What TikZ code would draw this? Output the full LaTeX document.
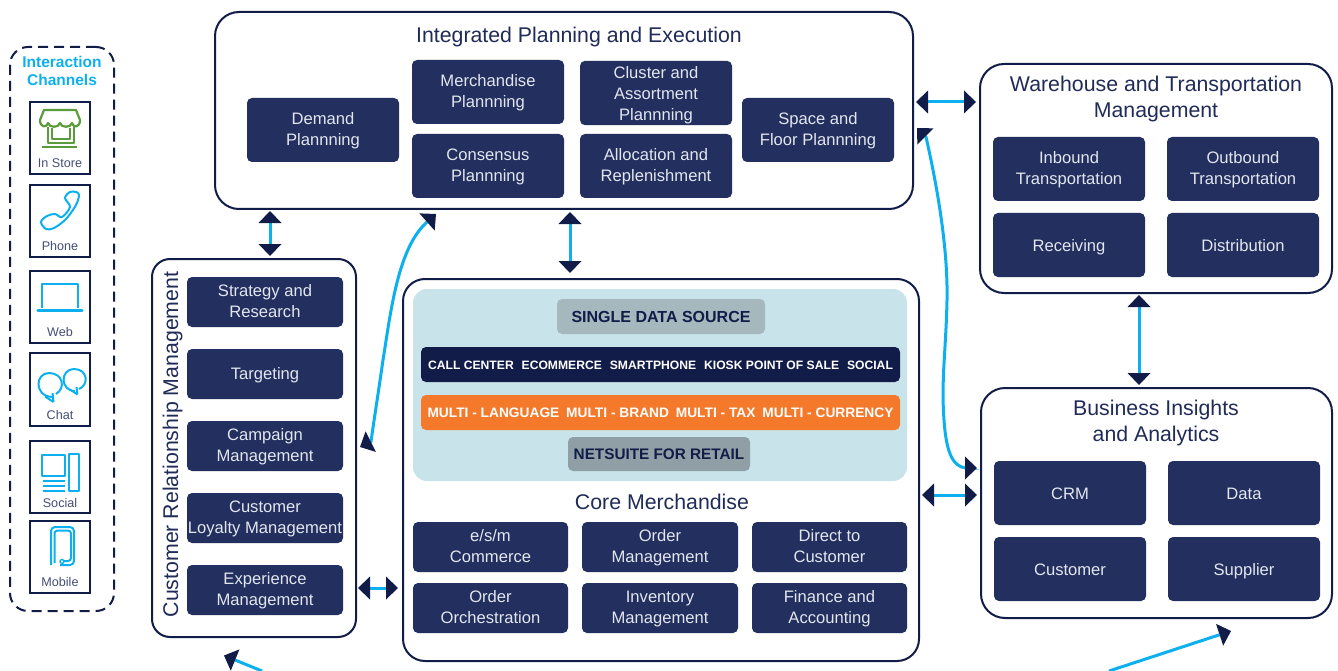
\documentclass[tikz,border=0pt]{standalone}
\usepackage{fontspec}
\setmainfont{Liberation Sans}
\usetikzlibrary{arrows.meta}
\definecolor{navy}{HTML}{121C48}
\definecolor{boxblue}{HTML}{222F5F}
\definecolor{cyanline}{HTML}{0DB0EE}
\definecolor{storegreen}{HTML}{5A9C3C}
\definecolor{panel}{HTML}{C9E3EA}
\definecolor{graya}{HTML}{A5B8BD}
\definecolor{grayb}{HTML}{909FA6}
\definecolor{orangebar}{HTML}{F5792A}
\definecolor{titlec}{HTML}{202B58}
\definecolor{boxtext}{HTML}{E2E6EE}
\definecolor{iconlabel}{HTML}{454E74}
\newcommand{\lowstrut}{\rule[-\dimexpr.3\baselineskip-2pt\relax]{0pt}{\baselineskip}}
\tikzset{
  base/.style={inner sep=0pt,outer sep=0pt,align=center},
  struts/.style={execute at begin node=\lowstrut,execute at end node=\lowstrut},
  raisetop/.style={execute at begin node=\rule{0pt}{#1}},
  group/.style={base,draw=navy,line width=2pt,fill=white,rounded corners=#1},
  group/.default=24pt,
  titletext/.style={base,struts,text=titlec,font=\fontsize{21.3}{26}\selectfont},
  bx/.style 2 args={base,struts,fill=boxblue,rounded corners=5pt,minimum width=#1,minimum height=#2,text=boxtext,font=\fontsize{16.6}{21}\selectfont},
  bxtwo/.style 2 args={bx={#1}{#2},raisetop=36pt},
  bar/.style 2 args={base,struts,rounded corners=5pt,minimum width=#1,minimum height=#2},
  chan/.style={base,draw=navy,line width=2pt,minimum width=60pt,minimum height=72pt},
  chanlabel/.style={base,struts,text=iconlabel,font=\fontsize{12.6}{15}\selectfont},
  icon/.style={draw=cyanline,line width=2pt,line join=round},
  conn/.style={draw=cyanline,line width=3pt,{Triangle[length=12pt,width=23pt,color=navy,fill=navy,line width=0pt]}-{Triangle[length=12pt,width=23pt,color=navy,fill=navy,line width=0pt]}},
  oneconn/.style={draw=cyanline,line width=3pt,-{Triangle[length=12pt,width=23pt,color=navy,fill=navy,line width=0pt]}}
}
\begin{document}
\begin{tikzpicture}[x=1pt,y=-1pt]
\useasboundingbox (0,0) rectangle (1338,671);
\clip (0,0) rectangle (1338,671);
% Interaction channels
\node[base,draw=navy,line width=2pt,dash pattern=on 10pt off 6pt,rounded corners=18pt,minimum width=104pt,minimum height=564pt] (chanbox) at (62,329) {};
\node[base,struts,raisetop=29.5pt,text=cyanline,font=\fontsize{15.5}{18}\selectfont\bfseries] (chantitle) at (62,72) {Interaction\\Channels};
\node[chan] (store) at (60,138) {};
\node[chan] (phone) at (60,221) {};
\node[chan] (web) at (60,307) {};
\node[chan,minimum height=73pt] (chat) at (60,389.5) {};
\node[chan] (social) at (60,477) {};
\node[chan] (mobile) at (60,557) {};
\node[chanlabel] at (60,162.5) {In Store};
\node[chanlabel] at (60,245.5) {Phone};
\node[chanlabel] at (60,331.5) {Web};
\node[chanlabel] at (60,414) {Chat};
\node[chanlabel] at (60,502.5) {Social};
\node[chanlabel] at (60,581.5) {Mobile};
% store icon
\begin{scope}[line width=2.2pt,line join=round]
\draw[storegreen] (44,110) -- (76,110) -- (80,120) .. controls (80,128) and (73,128) .. (72,123) .. controls (71,128) and (61,128) .. (60,123) .. controls (59,128) and (49,128) .. (48,123) .. controls (47,128) and (40,128) .. (40,120) -- cycle;
\draw[storegreen] (48,127) -- (48,143) -- (74,143) -- (74,127);
\draw[storegreen,line width=1.6pt] (52,128) -- (52,139) -- (70,139) -- (70,128);
\draw[storegreen] (42,147) -- (77,147);
\end{scope}
% phone icon
\draw[icon] plot[smooth cycle,tension=.55] coordinates {(41,222) (46,229) (54,228) (66,219) (76,205) (79,195) (76,192) (70,192) (65,198) (70,207) (62,217) (55,214) (47,216)};
% web icon
\draw[icon] (42,308) -- (42,283.5) -- (78,283.5) -- (78,308);
\draw[cyanline,line width=3.2pt,line cap=round] (38,310.5) -- (82,310.5);
% chat icon
\draw[icon] (52,397) .. controls (34,396) and (35,373) .. (49,373) .. controls (63,373) and (66,388) .. (56,394);
\draw[icon] (53.5,402) -- (45,396.5) (53.5,402) -- (52.5,393);
\draw[icon] (75,391) .. controls (60,391) and (60,369) .. (74,369) .. controls (88,369) and (89,385) .. (79,389);
\draw[icon] (77.5,394.5) -- (70,389.5) (77.5,394.5) -- (76.5,387);
% social icon
\draw[icon] (42,455) rectangle (65,476);
\draw[icon] (68.5,454) rectangle (79,491);
\draw[icon] (43,481) -- (65,481) (43,486) -- (65,486) (43,491) -- (65,491);
% mobile icon
\draw[icon,rounded corners=4pt] (51,565) -- (51,527) -- (74,527) -- (74,565) -- (60,565);
\draw[icon,rounded corners=3pt] (54.5,563) -- (54.5,530.5) -- (71,530.5) -- (71,561) -- (63,561);
\draw[icon,line width=1.4pt] (62,561.5) circle (2pt);
% Integrated Planning and Execution
\node[group,minimum width=698pt,minimum height=197pt] (ipe) at (564,110.5) {};
\node[titletext] at (579,35) {Integrated Planning and Execution};
\node[bxtwo={152pt}{64pt}] (demand) at (323,130) {Demand\\Plannning};
\node[bxtwo={152pt}{64pt}] (merch) at (488,92) {Merchandise\\Plannning};
\node[bxtwo={152pt}{64pt}] (consensus) at (488,166) {Consensus\\Plannning};
\node[bx={152pt}{64pt},raisetop=60pt] (cluster) at (656,93) {Cluster and\\Assortment\\Plannning};
\node[bxtwo={152pt}{64pt}] (alloc) at (656,166) {Allocation and\\Replenishment};
\node[bxtwo={152pt}{64pt}] (space) at (818,130) {Space and\\Floor Plannning};
% Warehouse
\node[group,minimum width=352pt,minimum height=229pt] (wtm) at (1156,178.5) {};
\node[titletext,raisetop=47pt] at (1156,97) {Warehouse and Transportation\\Management};
\node[bxtwo={152pt}{64pt}] (inbound) at (1069,169) {Inbound\\Transportation};
\node[bxtwo={152pt}{64pt}] (outbound) at (1243,169) {Outbound\\Transportation};
\node[bx={152pt}{64pt}] (receiving) at (1069,245) {Receiving};
\node[bx={152pt}{64pt}] (distribution) at (1243,245) {Distribution};
% Business insights
\node[group,minimum width=351pt,minimum height=230pt] (bia) at (1156.5,503) {};
\node[titletext,raisetop=46.5pt] at (1156,421.5) {Business Insights\\and Analytics};
\node[bx={152pt}{64pt}] (crmb) at (1070,493) {CRM};
\node[bx={152pt}{64pt}] (data) at (1244,493) {Data};
\node[bx={152pt}{64pt}] (customer) at (1070,569) {Customer};
\node[bx={152pt}{64pt}] (supplier) at (1244,569) {Supplier};
% CRM
\node[group=18pt,minimum width=204pt,minimum height=378pt] (crm) at (254,448) {};
\node[titletext,rotate=90] at (171,444.5) {Customer Relationship Management};
\node[bxtwo={156pt}{50pt}] (strategy) at (265,302) {Strategy and\\Research};
\node[bx={156pt}{50pt},execute at end node={\rule[-6.3pt]{0pt}{6.3pt}}] (targeting) at (265,374) {Targeting};
\node[bxtwo={156pt}{50pt}] (campaign) at (265,446) {Campaign\\Management};
\node[bxtwo={156pt}{50pt}] (loyalty) at (265,518) {Customer\\Loyalty Management};
\node[bxtwo={156pt}{50pt}] (experience) at (265,590) {Experience\\Management};
% Core
\node[group=22pt,minimum width=516pt,minimum height=382pt] (core) at (661,470) {};
\node[base,fill=panel,rounded corners=14pt,minimum width=494pt,minimum height=192pt] (teal) at (660,385) {};
\node[bar={208pt}{35pt},fill=graya,text=navy,font=\fontsize{16}{18}\selectfont\bfseries] (single) at (661,316.5) {SINGLE DATA SOURCE};
\node[bar={479pt}{35pt},fill=navy,text=white,font=\fontsize{12.15}{16}\selectfont\bfseries] (channels) at (660.5,364.5) {CALL CENTER\hspace{4.5pt} ECOMMERCE\hspace{4.5pt} SMARTPHONE\hspace{4.5pt} KIOSK POINT OF SALE\hspace{4.5pt} SOCIAL};
\node[bar={479pt}{35pt},fill=orangebar,text=white,font=\fontsize{13.75}{16}\selectfont\bfseries] (multi) at (660.5,412.5) {MULTI - LANGUAGE\hspace{3pt} MULTI - BRAND\hspace{3pt} MULTI - TAX\hspace{3pt} MULTI - CURRENCY};
\node[bar={182pt}{34pt},fill=grayb,text=navy,font=\fontsize{15.3}{18}\selectfont\bfseries] (netsuite) at (659,454) {NETSUITE FOR RETAIL};
\node[titletext] at (662,502) {Core Merchandise};
\node[bxtwo={155pt}{50pt}] (esm) at (490.5,547) {e/s/m\\Commerce};
\node[bxtwo={156pt}{50pt}] (order) at (660,547) {Order\\Management};
\node[bxtwo={155pt}{50pt}] (direct) at (829.5,547) {Direct to\\Customer};
\node[bxtwo={155pt}{50pt}] (orch) at (490.5,608) {Order\\Orchestration};
\node[bxtwo={156pt}{50pt}] (inventory) at (660,608) {Inventory\\Management};
\node[bxtwo={155pt}{50pt}] (finance) at (829.5,608) {Finance and\\Accounting};
% Connectors
\coordinate (xa) at (270,0);
\coordinate (xb) at (570,0);
\coordinate (xc) at (1139,0);
\coordinate (ya) at (0,588);
\coordinate (yb) at (0,102);
\coordinate (yc) at (0,495);
\draw[conn] ([yshift=-2pt]ipe.south -| xa) -- ([yshift=3pt]crm.north -| xa);
\draw[conn] ([yshift=-3pt]ipe.south -| xb) -- ([yshift=6pt]core.north -| xb);
\draw[conn] ([xshift=2pt]crm.east |- ya) -- ([xshift=-5pt]core.west |- ya);
\draw[conn] ([xshift=3pt]ipe.east |- yb) -- ([xshift=-4pt]wtm.west |- yb);
\draw[conn] ([xshift=3pt]core.east |- yc) -- ([xshift=-4pt]bia.west |- yc);
\draw[conn] ([yshift=-2pt]wtm.south -| xc) -- ([yshift=3pt]bia.north -| xc);
\coordinate (ca) at (436,214);
\coordinate (cb) at (360,447);
\coordinate (cc) at (917,128);
\coordinate (cd) at (977,468);
\draw[conn] (ca) -- (427,222) .. controls (398,248) and (391,310) .. (383,360) .. controls (378,395) and (374,420) .. (371,441.5) -- (cb);
\draw[conn] (cc) -- (926,137) .. controls (938,190) and (948,250) .. (947,300) .. controls (946,350) and (941,380) .. (944,420) .. controls (946,450) and (952,467) .. (966,468) -- (cd);
\coordinate (ce) at (262,671);
\coordinate (cf) at (224,655.5);
\coordinate (cg) at (1109,671);
\coordinate (ch) at (1231,631);
\draw[oneconn] (ce) -- (cf);
\draw[oneconn] (cg) -- (ch);
\end{tikzpicture}
\end{document}
